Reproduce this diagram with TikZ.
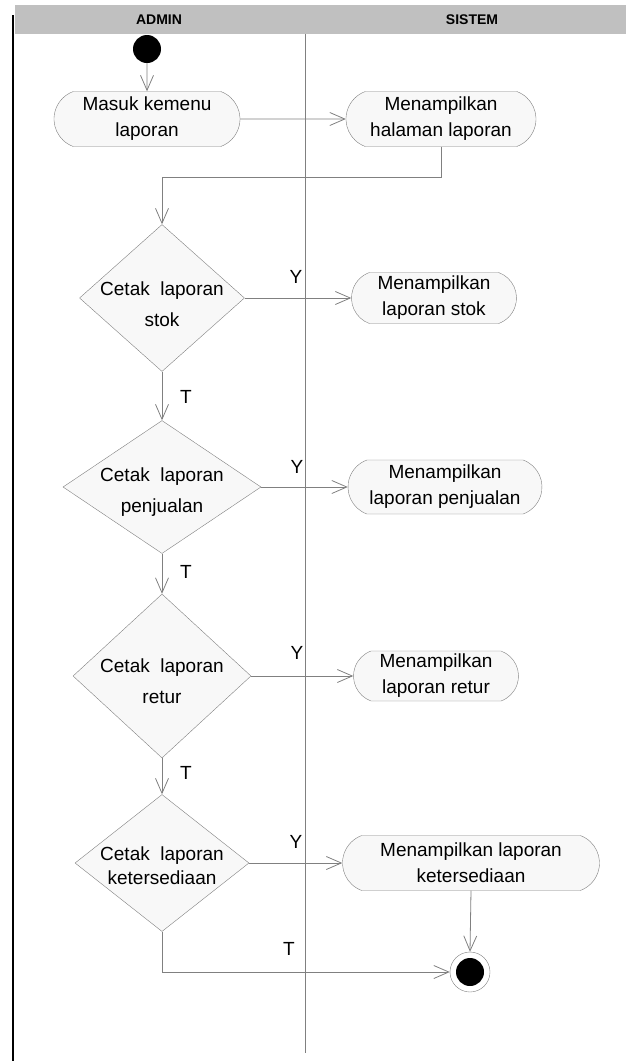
\documentclass[tikz,border=0pt]{standalone}
\usepackage{fontspec}
\setmainfont{Liberation Sans}
\usetikzlibrary{shapes.geometric,shapes.misc,arrows.meta}

\definecolor{linegray}{HTML}{808080}
\definecolor{boxfill}{HTML}{F8F8F8}
\definecolor{headgray}{HTML}{C0C0C0}

\tikzset{
  act/.style={rounded rectangle, rounded rectangle arc length=140, draw=linegray, fill=boxfill,
    inner sep=0pt, align=center, font=\fontsize{19}{26}\selectfont},
  dec/.style={diamond, draw=linegray, fill=boxfill, inner sep=0pt},
  dectext/.style={align=center, inner sep=0pt, font=\fontsize{19}{31}\selectfont},
  flow/.style={draw=linegray, line width=0.8pt, -{Straight Barb[length=15pt,width=13pt]}},
  lbl/.style={font=\fontsize{19}{20}\selectfont},
  lane/.style={font=\fontsize{14}{15}\selectfont\bfseries}
}

\begin{document}
\begin{tikzpicture}
\begin{scope}[x=1pt,y=-1pt]
\useasboundingbox (0,0) rectangle (626,1061);

% lanes
\fill[headgray] (15,5) rectangle (626,34);
\draw[line width=2pt] (13,15) -- (13,1061);
\draw[linegray, line width=0.8pt] (305,34) -- (305,1053);
\node[lane] (admin) at (159,20) {ADMIN};
\node[lane] (sistem) at (472,20) {SISTEM};

% start and end
\node[circle, fill=black, minimum size=28pt, inner sep=0pt] (start) at (147,49) {};
\node[circle, draw=linegray, fill=white, minimum size=40pt, inner sep=0pt] (end) at (470,972) {};
\node[circle, fill=black, minimum size=28pt, inner sep=0pt] (endin) at (end) {};

% actions
\node[act, minimum width=186pt, minimum height=55pt] (masuk) at (147,119) {Masuk kemenu\\laporan};
\node[act, minimum width=190pt, minimum height=55pt] (halaman) at (441,119) {Menampilkan\\halaman laporan};
\node[act, minimum width=165pt, minimum height=51pt] (stok) at (434,298) {Menampilkan\\laporan stok};
\node[act, minimum width=194pt, minimum height=54pt] (jual) at (445,487) {Menampilkan\\laporan penjualan};
\node[act, minimum width=165pt, minimum height=50pt] (retur) at (436,676) {Menampilkan\\laporan retur};
\node[act, minimum width=257pt, minimum height=55pt] (sedia) at (471,863) {Menampilkan laporan\\ketersediaan};

% decisions
\node[dec, minimum width=165pt, minimum height=147pt] (d1) at (162,298) {};
\node[dec, minimum width=198pt, minimum height=133pt] (d2) at (162,487) {};
\node[dec, minimum width=178pt, minimum height=164pt] (d3) at (162,676) {};
\node[dec, minimum width=174pt, minimum height=137pt] (d4) at (162,863) {};
\node[dectext] (d1t) at ([yshift=-6pt]d1.center) {Cetak\ \ laporan\\stok};
\node[dectext] (d2t) at ([yshift=-5pt]d2.center) {Cetak\ \ laporan\\penjualan};
\node[dectext] (d3t) at ([yshift=-5pt]d3.center) {Cetak\ \ laporan\\retur};
\node[dectext, font=\fontsize{19}{24}\selectfont] (d4t) at ([yshift=-3pt]d4.center) {Cetak\ \ laporan\\ketersediaan};

% flow
\coordinate (bend) at (441,177);
\draw[flow] (start) -- (masuk);
\draw[flow] (masuk) -- (halaman);
\draw[flow] (halaman.south) -- (bend) -| (d1.north);
\draw[flow] (d1.east) -- (stok.west);
\draw[flow] (d1.south) -- (d2.north);
\draw[flow] (d2.east) -- (jual.west);
\draw[flow] (d2.south) -- (d3.north);
\draw[flow] (d3.east) -- (retur.west);
\draw[flow] (d3.south) -- (d4.north);
\draw[flow] (d4.east) -- (sedia.west);
\draw[flow] (sedia.south) -- (end.north);
\draw[flow] (d4.south) |- (end.west);

% guards
\node[lbl] (y1) at (296,277) {Y};
\node[lbl] (y2) at (297,467) {Y};
\node[lbl] (y3) at (297,653) {Y};
\node[lbl] (y4) at (296,842) {Y};
\node[lbl] (t1) at (186,397) {T};
\node[lbl] (t2) at (186,572) {T};
\node[lbl] (t3) at (186,773) {T};
\node[lbl] (t4) at (289,949) {T};

\end{scope}
\end{tikzpicture}
\end{document}
